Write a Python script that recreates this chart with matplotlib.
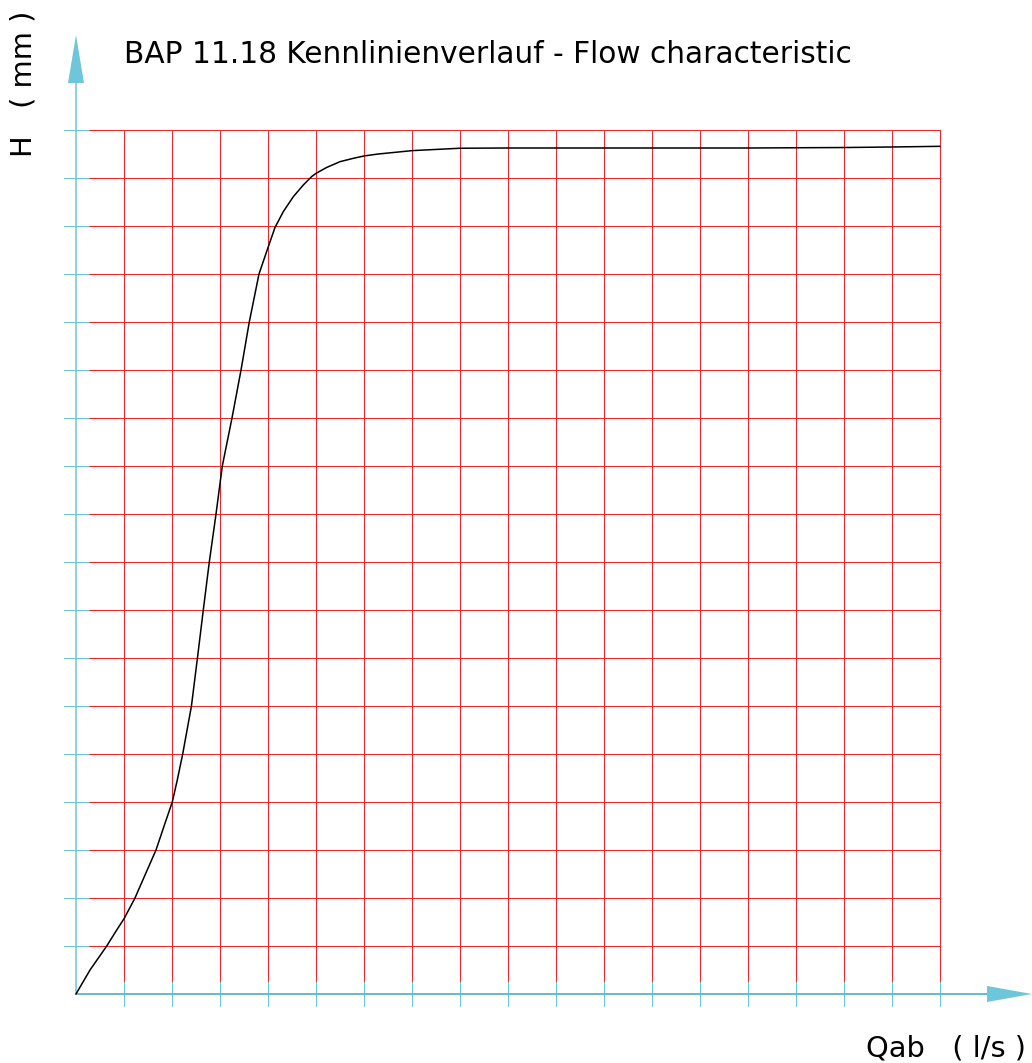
import matplotlib
matplotlib.use("Agg")
import matplotlib.pyplot as plt

# Flow characteristic (grid units, 18 x 18 cells)
q_flow = [0.0, 0.292, 0.64, 0.848, 1.006, 1.229, 1.438, 1.667, 1.854, 2.006,
          2.11, 2.223, 2.405, 2.53, 2.652, 2.777, 2.917, 3.048, 3.25, 3.438,
          3.61, 3.8125, 4.0, 4.146, 4.319, 4.527, 4.735, 4.91, 5.006,
          5.223, 5.5, 5.777, 6.006, 6.298, 7.0, 8.0, 9.0, 10.0, 12.0, 14.0,
          15.0, 16.0, 17.0, 18.0]
h_head = [0.0, 0.5, 1.0, 1.333, 1.577, 2.0, 2.479, 3.0, 3.556, 4.0,
          4.458, 5.0, 6.0, 7.0, 8.0, 9.0, 10.0, 11.0, 12.0, 13.0,
          14.0, 15.0, 15.55, 15.97, 16.3, 16.61, 16.854, 17.03, 17.1,
          17.22, 17.34, 17.41, 17.46, 17.5, 17.57, 17.62, 17.625, 17.625, 17.625, 17.625,
          17.63, 17.635, 17.646, 17.66]

n_cols = 18
n_rows = 18
title = "BAP 11.18 Kennlinienverlauf - Flow characteristic"
y_label = "H   ( mm )"
x_label = "Qab   ( l/s )"

CYAN = "#6ec6da"
AXIS = "#66b8cb"
RED = "#e8282b"

plt.rcParams["font.family"] = ["DejaVu Sans"]

W, H = 1032, 1063
CELL = 48.0
X0, Y0 = 76, 994  # origin in pixels

fig = plt.figure(figsize=(W / 100, H / 100), dpi=100)
ax = fig.add_axes([0, 0, 1, 1])
ax.set_xlim(-X0 / CELL, (W - X0) / CELL)
ax.set_ylim((Y0 - H) / CELL, Y0 / CELL)
ax.axis("off")

px = 1 / CELL  # one pixel in data units
lw = 0.75

# grid
for j in range(1, n_rows + 1):
    ax.plot([0.25, n_cols], [j, j], color=RED, lw=lw, zorder=1)
    ax.plot([-0.25, 0.25], [j, j], color=CYAN, lw=lw, zorder=1)
for i in range(1, n_cols + 1):
    ax.plot([i, i], [0.25, n_rows], color=RED, lw=lw, zorder=1)
    ax.plot([i, i], [-0.25, 0.25], color=CYAN, lw=lw, zorder=1)

# axes with arrows
y_tip = (Y0 - 35) / CELL
y_base = (Y0 - 83) / CELL
x_tip = (W - X0) / CELL
x_base = (987 - X0) / CELL
ax.plot([0, 0], [0, y_base], color=CYAN, lw=1.1, zorder=2)
ax.plot([0, x_base], [0, 0], color=AXIS, lw=1.4, zorder=2)
ax.fill([-8 * px, 8 * px, 0], [y_base, y_base, y_tip], color=CYAN, lw=0, zorder=3)
ax.fill([x_base, x_base, x_tip], [-8 * px, 8 * px, 0], color=CYAN, lw=0, zorder=3)

# curve
ax.plot(q_flow, h_head, color="black", lw=1.1, zorder=4,
        solid_capstyle="round", solid_joinstyle="round")

# texts
ax.text(1.0, (Y0 - 63) / CELL, title, fontsize=21.3, ha="left", va="baseline")
ax.text((32 - X0) / CELL, (Y0 - 157) / CELL, y_label, fontsize=20.8, rotation=90,
        rotation_mode="anchor", ha="left", va="baseline")
ax.text((866 - X0) / CELL, (Y0 - 1056) / CELL, x_label, fontsize=20.8,
        ha="left", va="baseline")

fig.savefig("out.png", dpi=100)
